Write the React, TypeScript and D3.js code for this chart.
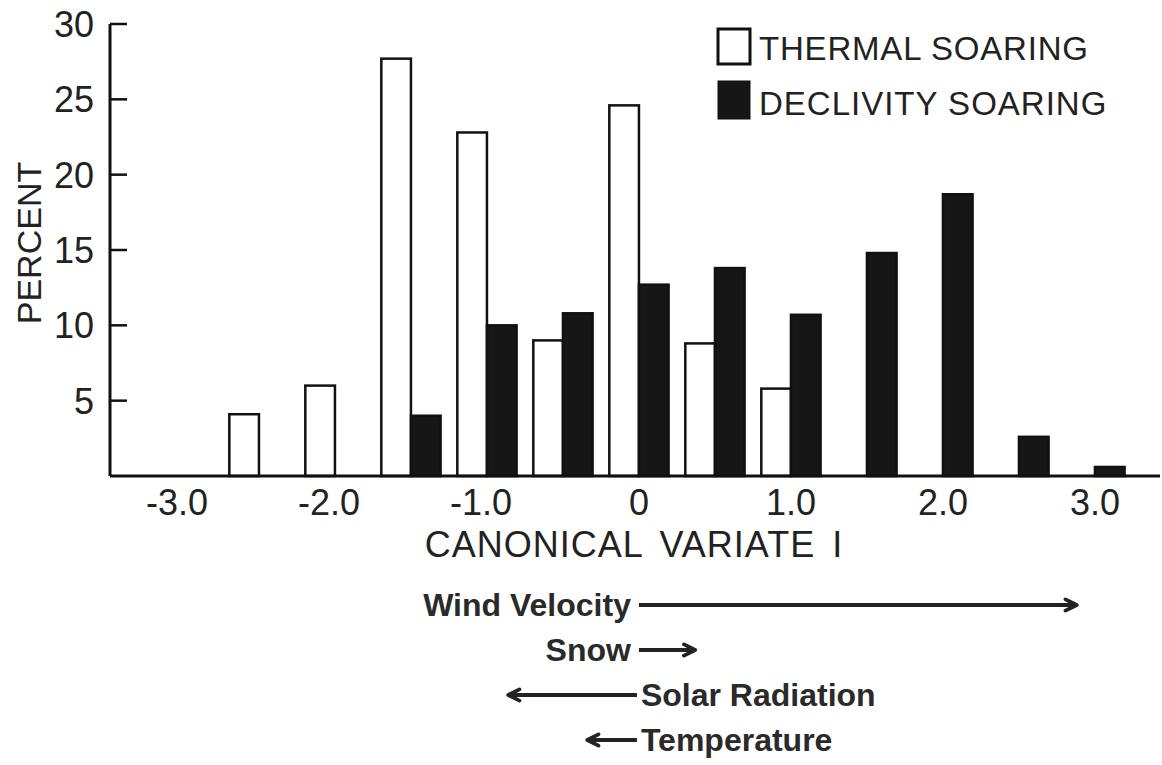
import * as d3 from 'd3'

// canonical variate bins (pair boundary), percent of observations
const bins = [-2.5, -2.0, -1.5, -1.0, -0.5, 0, 0.5, 1.0, 1.5, 2.0, 2.5, 3.0]
const thermal = [4.1, 6.0, 27.7, 22.8, 9.0, 24.6, 8.8, 5.8, 0, 0, 0, 0]
const declivity = [0, 0, 4.0, 10.0, 10.8, 12.7, 13.8, 10.7, 14.8, 18.7, 2.6, 0.6]

const xTicks = [-3, -2, -1, 0, 1, 2, 3]
const xTickLabels = ['-3.0', '-2.0', '-1.0', '0', '1.0', '2.0', '3.0']
const yTicks = [5, 10, 15, 20, 25, 30]

const legendLabels = ['THERMAL SOARING', 'DECLIVITY SOARING']

// environmental variables correlated with the canonical variate
const varNames = ['Wind Velocity', 'Snow', 'Solar Radiation', 'Temperature']
const varEnds = [2.88, 0.37, -0.86, -0.34]

const W = 1162
const H = 765
const FONT = '"Liberation Sans", Arial, sans-serif'
const INK = '#222'

export default function App() {
  const x = d3.scaleLinear().domain([-3.48, 3.428]).range([110, 1160])
  const y = d3.scaleLinear().domain([0, 30]).range([476, 24])
  const barW = 0.195
  const x0 = x(0)

  return (
    <svg width={W} height={H} style={{ position: 'absolute', left: 0, top: 0, background: '#fff' }}>
      {/* bars */}
      {bins.map((b, i) => (
        <g key={b}>
          {thermal[i] > 0 && (
            <rect
              x={x(b - barW)}
              y={y(thermal[i])}
              width={x(b) - x(b - barW)}
              height={y(0) - y(thermal[i])}
              fill="#fff"
              stroke="#111"
              strokeWidth={2.5}
            />
          )}
          {declivity[i] > 0 && (
            <rect
              x={x(b)}
              y={y(declivity[i])}
              width={x(b + barW) - x(b)}
              height={y(0) - y(declivity[i])}
              fill="#161616"
              stroke="#111"
              strokeWidth={2.5}
            />
          )}
        </g>
      ))}

      {/* axes */}
      <line x1={x.range()[0]} x2={x.range()[1]} y1={y(0)} y2={y(0)} stroke="#111" strokeWidth={3} />
      <line x1={x.range()[0]} x2={x.range()[0]} y1={y(30)} y2={y(0)} stroke="#111" strokeWidth={3} />
      {yTicks.map(t => (
        <g key={t}>
          <line x1={110} x2={127} y1={y(t)} y2={y(t)} stroke="#111" strokeWidth={2.5} />
          <text x={94} y={y(t) + 13} textAnchor="end" fontFamily={FONT} fontSize={36} fill={INK}>
            {t}
          </text>
        </g>
      ))}
      <text
        transform={`translate(41,243) rotate(-90)`}
        textAnchor="middle"
        fontFamily={FONT}
        fontSize={34}
        fill={INK}
      >
        PERCENT
      </text>

      {xTicks.map((t, i) => (
        <text
          key={t}
          x={x(t) - (t < 0 ? 6 : 0)}
          y={515}
          textAnchor="middle"
          fontFamily={FONT}
          fontSize={36}
          fill={INK}
        >
          {xTickLabels[i]}
        </text>
      ))}
      <text
        x={634}
        y={557}
        textAnchor="middle"
        fontFamily={FONT}
        fontSize={36}
        letterSpacing={1}
        wordSpacing={6}
        fill={INK}
      >
        CANONICAL VARIATE I
      </text>

      {/* legend */}
      <rect x={718} y={29} width={32} height={35} fill="#fff" stroke="#111" strokeWidth={3} />
      <text x={759} y={60} fontFamily={FONT} fontSize={33} letterSpacing={0.8} fill={INK}>
        {legendLabels[0]}
      </text>
      <rect x={718} y={81} width={32} height={38} fill="#161616" stroke="#111" strokeWidth={1} />
      <text x={759} y={115} fontFamily={FONT} fontSize={33} letterSpacing={1} fill={INK}>
        {legendLabels[1]}
      </text>

      {/* variable arrows */}
      <defs>
        <marker id="ah" viewBox="0 0 10 10" refX={8.5} refY={5} markerWidth={4} markerHeight={4} orient="auto">
          <path d="M1.5,1.5 L8.5,5 L1.5,8.5" fill="none" stroke="#222" strokeWidth={2.4} strokeLinecap="round" strokeLinejoin="round" />
        </marker>
      </defs>
      {varNames.map((name, i) => {
        const rowY = 605 + i * 45
        const end = x(varEnds[i])
        const right = varEnds[i] > 0
        return (
          <g key={name}>
            <line
              x1={right ? x0 : x0 - 2}
              x2={end}
              y1={rowY}
              y2={rowY}
              stroke="#222"
              strokeWidth={4}
              markerEnd="url(#ah)"
            />
            <text
              x={right ? x0 - 8 : x0 + 2}
              y={rowY + 11}
              textAnchor={right ? 'end' : 'start'}
              fontFamily={FONT}
              fontSize={32}
              fontWeight="bold"
              fill="#2a2a2a"
            >
              {name}
            </text>
          </g>
        )
      })}
    </svg>
  )
}
